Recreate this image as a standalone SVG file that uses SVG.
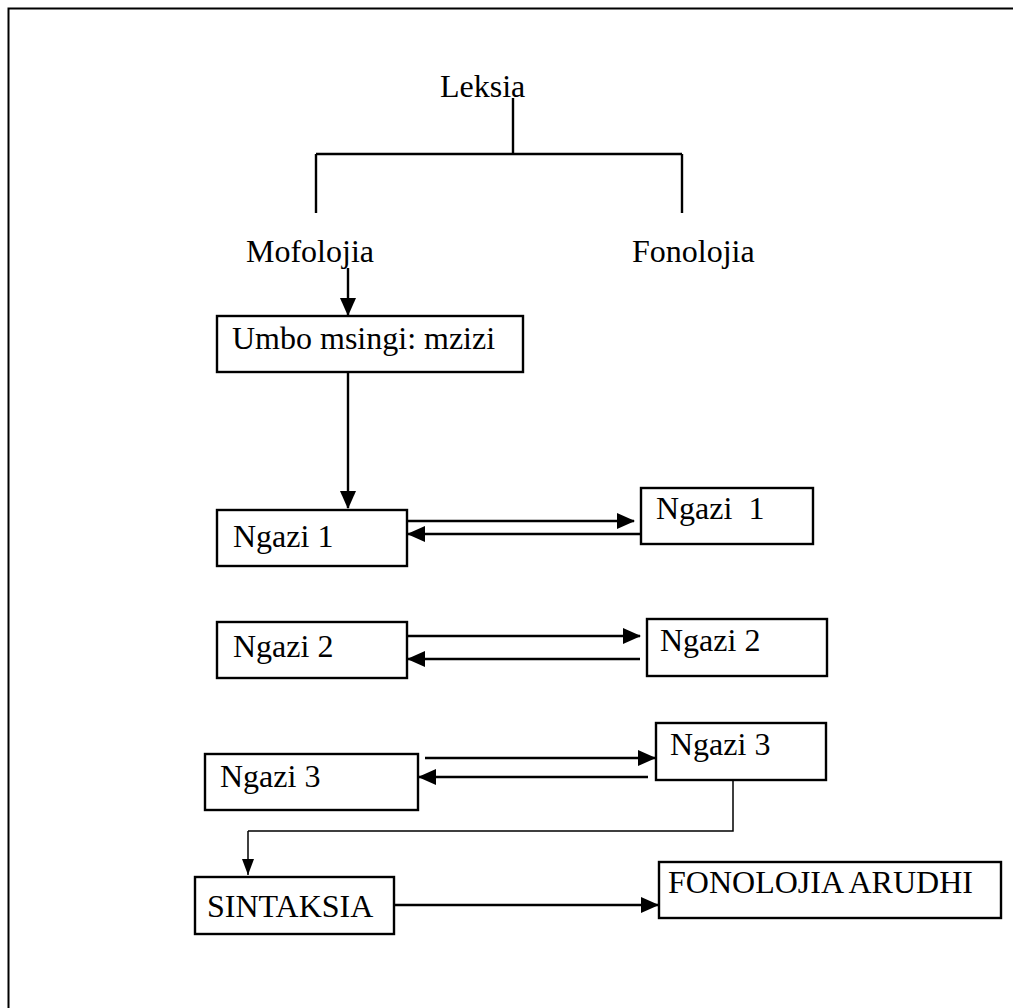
<svg xmlns="http://www.w3.org/2000/svg" width="1013" height="1008" viewBox="0 0 1013 1008">
<style>
  .t { font-family: "Liberation Serif", "Times New Roman", Times, "DejaVu Serif", serif; font-size: 32px; fill: #000; }
  .box { fill: #fff; stroke: #000; stroke-width: 2.4; }
  .ln { fill: none; stroke: #000; stroke-width: 2.4; }
  .thin { fill: none; stroke: #000; stroke-width: 1.5; }
  .arr { marker-end: url(#ah); }
</style>
<defs>
  <marker id="ah" viewBox="0 0 18 16" refX="17" refY="8" markerWidth="18" markerHeight="16" markerUnits="userSpaceOnUse" orient="auto">
    <path d="M0,0 L18,8 L0,16 Z" fill="#000"/>
  </marker>
  <marker id="ahs" viewBox="0 0 16 12" refX="16" refY="6" markerWidth="16" markerHeight="12" markerUnits="userSpaceOnUse" orient="auto">
    <path d="M0,0 L16,6 L0,12 Z" fill="#000"/>
  </marker>
</defs>
<rect x="0" y="0" width="1013" height="1008" fill="#fff"/>
<path d="M8.5,1010 V8.5 H1015" fill="none" stroke="#000" stroke-width="2"/>

<g id="connectors">
  <path class="ln" d="M513,98 V154 M316,154 H682 M316,154 V213 M682,154 V213"/>
  <path class="ln arr" d="M348,268 V315"/>
  <path class="ln arr" d="M348,372 V508"/>
  <path class="ln arr" d="M408,521 H634"/>
  <path class="ln arr" d="M641,534 H408"/>
  <path class="ln arr" d="M408,636 H640"/>
  <path class="ln arr" d="M640,659 H408"/>
  <path class="ln arr" d="M425,758 H655"/>
  <path class="ln arr" d="M648,777 H419"/>
  <path class="thin" d="M733,781 V831 H248"/>
  <path class="thin" d="M248,831 V875" marker-end="url(#ahs)"/>
  <path class="ln arr" d="M395,905 H658"/>
</g>

<g class="t" font-family="'Liberation Serif', 'Times New Roman', serif" font-size="32">
<g id="leksia"><text x="440" y="97">Leksia</text></g>
<g id="mofolojia"><text x="246" y="262">Mofolojia</text></g>
<g id="fonolojia"><text x="632" y="262">Fonolojia</text></g>
<g id="umbo"><rect class="box" x="217" y="316" width="306" height="56"/><text x="232" y="349">Umbo msingi: mzizi</text></g>
<g id="ngazi1-left"><rect class="box" x="217" y="510" width="190" height="56"/><text x="233" y="547">Ngazi 1</text></g>
<g id="ngazi1-right"><rect class="box" x="641" y="488" width="172" height="56"/><text x="656" y="519" xml:space="preserve">Ngazi  1</text></g>
<g id="ngazi2-left"><rect class="box" x="217" y="622" width="190" height="56"/><text x="233" y="657">Ngazi 2</text></g>
<g id="ngazi2-right"><rect class="box" x="647" y="619" width="180" height="57"/><text x="660" y="651">Ngazi 2</text></g>
<g id="ngazi3-left"><rect class="box" x="205" y="754" width="213" height="56"/><text x="220" y="787">Ngazi 3</text></g>
<g id="ngazi3-right"><rect class="box" x="656" y="723" width="170" height="57"/><text x="670" y="755">Ngazi 3</text></g>
<g id="sintaksia"><rect class="box" x="195" y="877" width="199" height="57"/><text x="207" y="917">SINTAKSIA</text></g>
<g id="fonolojia-arudhi"><rect class="box" x="659" y="862" width="342" height="56"/><text x="668" y="893">FONOLOJIA ARUDHI</text></g>
</g>
</svg>
